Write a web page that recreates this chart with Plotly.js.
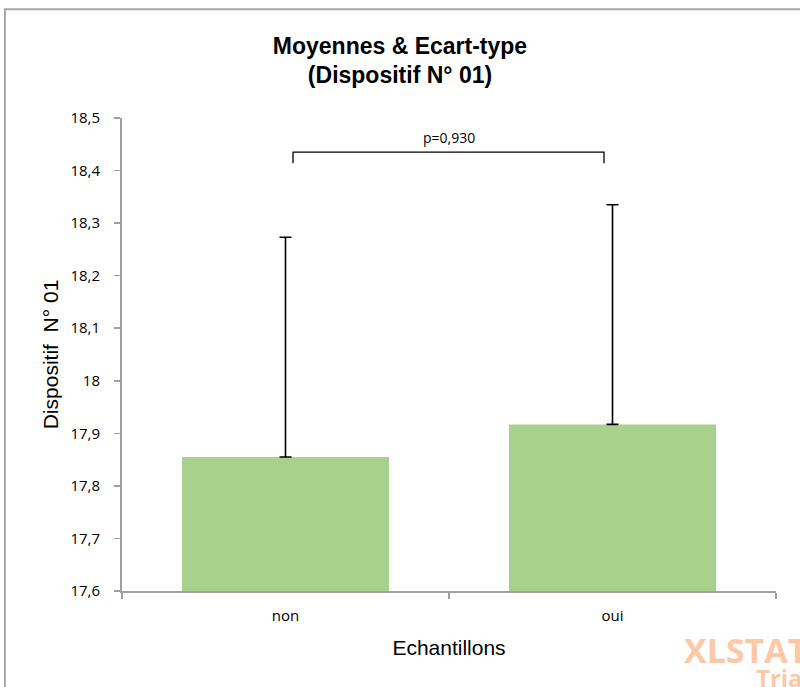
<!DOCTYPE html>
<html><head><meta charset="utf-8">
<script src="https://cdn.plot.ly/plotly-3.0.1.min.js"></script>
<style>html,body{margin:0;padding:0;background:#fff;}#chart{width:800px;height:687px;}</style>
</head><body><div id="chart"></div>
<script>
const categories = ["non", "oui"];
const means = [17.855, 17.917];
const stdDevs = [0.418, 0.418];
const yTicks = [17.6, 17.7, 17.8, 17.9, 18.0, 18.1, 18.2, 18.3, 18.4, 18.5];
const pLabel = "p=0,930";
const bracketY = 18.435, bracketTickY = 18.414;

const trace = {
  type: "bar", x: categories, y: means, width: 0.633,
  marker: {color: "#a9d18e"},
  error_y: {type: "data", array: stdDevs, arrayminus: [0, 0], visible: true,
            color: "#000", thickness: 1.6, width: 6},
  hoverinfo: "none"
};

const layout = {
  width: 800, height: 687,
  margin: {l: 122, r: 24, t: 118, b: 96},
  paper_bgcolor: "#fff", plot_bgcolor: "#fff",
  separators: ", ",
  showlegend: false,
  title: {text: "<b>Moyennes & Ecart-type<br>(Dispositif N° 01)</b>",
          font: {family: "Liberation Sans, Arial, sans-serif", size: 23, color: "#000"},
          x: 0.5, xref: "container", y: 0.922, yanchor: "top"},
  xaxis: {
    type: "category", range: [-0.5, 1.5], tickson: "boundaries",
    ticks: "outside", ticklen: 6, tickcolor: "#a0a0a0", tickwidth: 1.5,
    ticklabelstandoff: 10,
    showline: true, linecolor: "#a0a0a0", linewidth: 2,
    showgrid: false, zeroline: false,
    tickfont: {family: "Open Sans, sans-serif", size: 15, color: "#000"},
    title: {text: "Echantillons", font: {family: "Liberation Sans, Arial, sans-serif", size: 21, color: "#000"}, standoff: 16}
  },
  yaxis: {
    range: [17.6, 18.5], tickvals: yTicks,
    ticks: "outside", ticklen: 6, tickcolor: "#a0a0a0", tickwidth: 1.5,
    ticklabelstandoff: 11,
    showline: true, linecolor: "#a0a0a0", linewidth: 2,
    showgrid: false, zeroline: false,
    tickfont: {family: "Open Sans, sans-serif", size: 15, color: "#000"},
    title: {text: "Dispositif\u00a0 N° 01", font: {family: "Liberation Sans, Arial, sans-serif", size: 21, color: "#000"}, standoff: 6}
  },
  shapes: [
    {type: "path", xref: "x", yref: "y",
     path: `M 0.023,${bracketTickY} L 0.023,${bracketY} L 0.974,${bracketY} L 0.974,${bracketTickY}`,
     line: {color: "#000", width: 1.3}},
    {type: "rect", xref: "paper", yref: "paper", x0: -0.179, x1: 1.2, y0: -0.4, y1: 1.230,
     line: {color: "#a6a6a6", width: 2}, fillcolor: "rgba(0,0,0,0)", layer: "below"}
  ],
  annotations: [
    {x: 0.5, y: bracketY, xref: "x", yref: "y", text: pLabel, showarrow: false,
     yanchor: "bottom", yshift: 3,
     font: {family: "Open Sans, sans-serif", size: 14, color: "#000"}},
    {x: 1.052, y: -0.125, xref: "paper", yref: "paper", text: "<b>XLSTAT</b>", showarrow: false,
     xanchor: "right", yanchor: "middle",
     font: {family: "Open Sans, sans-serif", size: 34, color: "#fdc8a8"}},
    {x: 0.966, y: -0.183, xref: "paper", yref: "paper", text: "<b>Trial</b>", showarrow: false,
     xanchor: "left", yanchor: "middle",
     font: {family: "Open Sans, sans-serif", size: 24, color: "#fdc8a8"}}
  ]
};

Plotly.newPlot("chart", [trace], layout, {displayModeBar: false, staticPlot: true});
</script></body></html>
